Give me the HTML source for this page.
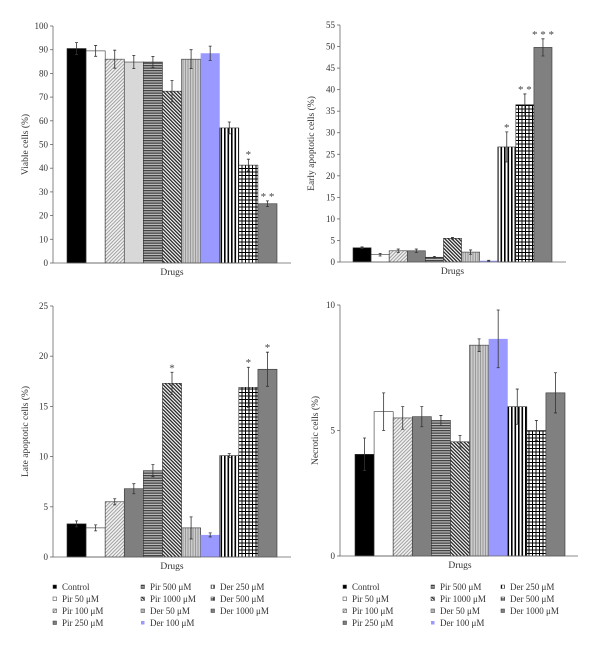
<!DOCTYPE html>
<html><head><meta charset="utf-8"><style>
body{margin:0;background:#fff;}
svg{display:block;font-family:"Liberation Serif",serif;}
</style></head><body>
<svg id="fig" width="600" height="653" viewBox="0 0 600 653">
<defs>
<pattern id="p-diag" width="2.5" height="2.5" patternUnits="userSpaceOnUse" patternTransform="rotate(45)"><rect width="2.5" height="2.5" fill="#f2f2f2"/><rect width="0.9" height="2.5" fill="#999"/></pattern>
<pattern id="p-horiz" width="2.5" height="2.5" patternUnits="userSpaceOnUse"><rect width="2.5" height="2.5" fill="#bbb"/><rect width="2.5" height="1.3" fill="#444"/></pattern>
<pattern id="p-zig" width="2.5" height="2.5" patternUnits="userSpaceOnUse" patternTransform="rotate(-45)"><rect width="2.5" height="2.5" fill="#fff"/><rect width="1.3" height="2.5" fill="#222"/></pattern>
<pattern id="p-vdot" width="2.5" height="2.5" patternUnits="userSpaceOnUse"><rect width="2.5" height="2.5" fill="#ccc"/><rect width="1" height="2.5" fill="#999"/></pattern>
<pattern id="p-vert" width="3.5" height="3.5" patternUnits="userSpaceOnUse"><rect width="3.5" height="3.5" fill="#fff"/><rect width="1.6" height="3.5" fill="#000"/></pattern>
<pattern id="p-grid" width="3.5" height="3.5" patternUnits="userSpaceOnUse"><rect width="3.5" height="3.5" fill="#fff"/><rect width="1" height="3.5" fill="#000"/><rect width="3.5" height="1" fill="#000"/></pattern>
</defs>
</svg>
<script>
const categories=["Control","Pir 50 μM","Pir 100 μM","Pir 250 μM","Pir 500 μM","Pir 1000 μM","Der 50 μM","Der 100 μM","Der 250 μM","Der 500 μM","Der 1000 μM"];
const viableValues=[90.5,89.5,86,84.8,84.8,72.5,86,88.5,57,41.3,25];
const viableErrors=[2.5,2.3,3.8,2.8,2.3,4.5,4,3,2.5,2.5,1.2];
const viableStars=["","","","","","","","","","*","**"];
const earlyValues=[3.3,1.7,2.6,2.6,1.1,5.5,2.3,0.3,26.7,36.5,49.8];
const earlyErrors=[0.2,0.3,0.4,0.4,0.2,0.2,0.5,0.1,3.5,2.5,2];
const earlyStars=["","","","","","","","","*","**","***"];
const lateValues=[3.3,2.9,5.5,6.8,8.6,17.3,2.9,2.2,10.1,16.9,18.7];
const lateErrors=[0.3,0.3,0.3,0.5,0.6,1.1,1.1,0.2,0.2,2,1.7];
const lateStars=["","","","","","*","","","","*","*"];
const necroticValues=[4.05,5.75,5.5,5.55,5.4,4.55,8.4,8.65,5.95,5.0,6.5];
const necroticErrors=[0.65,0.75,0.45,0.4,0.2,0.25,0.25,1.15,0.7,0.4,0.8];
const necroticStars=["","","","","","","","","","",""];
const viableTicks=[0,10,20,30,40,50,60,70,80,90,100];
const earlyTicks=[0,5,10,15,20,25,30,35,40,45,50,55];
const lateTicks=[0,5,10,15,20,25];
const necroticTicks=[0,5,10];

const fills=["#000","#fff","url(#p-diag)","#7f7f7f","url(#p-horiz)","url(#p-zig)","url(#p-vdot)","#9999ff","url(#p-vert)","url(#p-grid)","#808080"];
const NS="http://www.w3.org/2000/svg";
const svg=document.getElementById('fig');
function mk(tag,attrs,parent){const e=document.createElementNS(NS,tag);for(const k in attrs)e.setAttribute(k,attrs[k]);(parent||svg).appendChild(e);return e;}

function chart(name,cfg,vals,errs,stars,ticks,title,fillOverride){
  const g=mk('g',{});
  
  
  const max=ticks[ticks.length-1];
  const y=v=>cfg.y0-(v/max)*(cfg.y0-cfg.yTop);
  const bw=(cfg.x1-cfg.x0)/vals.length;
  const x=i=>cfg.x0+i*bw;
  vals.forEach((v,i)=>{
    const f=(fillOverride&&fillOverride[i])||fills[i];
    const stroke=(i===7)?'none':'#333';
    const r=mk('rect',{x:x(i),y:y(v),width:bw,height:cfg.y0-y(v),fill:f,stroke:stroke,'stroke-width':0.6},g);
    
    
    const cx=x(i)+bw/2;
    const eb=mk('path',{d:`M${cx},${y(v+errs[i])}V${y(v-errs[i])}M${cx-1.5},${y(v+errs[i])}h3M${cx-1.5},${y(v-errs[i])}h3`,stroke:'#333','stroke-width':0.8,fill:'none'},g);
    
    
    if(stars[i]){
      const t=mk('text',{x:cx,y:y(v+errs[i])-1,'text-anchor':'middle','font-size':11,fill:'#444'},g);
      t.textContent=stars[i].split('').join(' ');
      
      
    }
  });
  const ax=mk('path',{d:`M${cfg.ax},${cfg.yTop}V${cfg.y0}H${cfg.xEnd}`,stroke:'#666','stroke-width':0.8,fill:'none'},g);
  
  
  ticks.forEach(tv=>{
    mk('line',{x1:cfg.ax-3,x2:cfg.ax,y1:y(tv),y2:y(tv),stroke:'#666','stroke-width':0.8},g);
    const t=mk('text',{x:cfg.ax-5,y:y(tv)+3,'text-anchor':'end','font-size':9,fill:'#333'},g);
    t.textContent=tv;
    
    
  });
  const xt=mk('text',{x:(cfg.x0+cfg.x1)/2,y:cfg.y0+12,'text-anchor':'middle','font-size':9.5,fill:'#333'},g);
  xt.textContent='Drugs';
  
  
  const yt=mk('text',{x:0,y:0,'text-anchor':'middle','font-size':9.5,fill:'#333',transform:`translate(${cfg.tx},${(cfg.y0+cfg.yTop)/2}) rotate(-90)`},g);
  yt.textContent=title;
  
  
}
chart('viable-chart',{ax:53,y0:263,yTop:26,x0:67,x1:277,xEnd:291,tx:28},viableValues,viableErrors,viableStars,viableTicks,'Viable cells (%)',{3:'#d8d8d8'});
chart('early-chart',{ax:340,y0:262,yTop:25,x0:353,x1:552,xEnd:566,tx:314},earlyValues,earlyErrors,earlyStars,earlyTicks,'Early apoptotic cells (%)');
chart('late-chart',{ax:53,y0:557,yTop:306,x0:67,x1:277,xEnd:291,tx:28},lateValues,lateErrors,lateStars,lateTicks,'Late apoptotic cells (%)');
chart('necrotic-chart',{ax:340,y0:556,yTop:305,x0:355,x1:565,xEnd:578,tx:318},necroticValues,necroticErrors,necroticStars,necroticTicks,'Necrotic cells (%)');

function legend(name,ox){
  const g=mk('g',{});
  
  
  const cols=[[0,1,2,3],[4,5,6,7],[8,9,10]];
  const cx=[0,88,158];
  cols.forEach((col,c)=>col.forEach((idx,r)=>{
    const yy=590+r*12;
    mk('rect',{x:ox+cx[c],y:yy-5,width:3.5,height:3.5,fill:fills[idx],stroke:idx===7?'none':'#333','stroke-width':0.5},g);
    const t=mk('text',{x:ox+cx[c]+9,y:yy,'font-size':9,fill:'#333'},g);
    t.textContent=categories[idx];
    
    
  }));
}
legend('legend-left',53);
legend('legend-right',343);
</script>
</body></html>
